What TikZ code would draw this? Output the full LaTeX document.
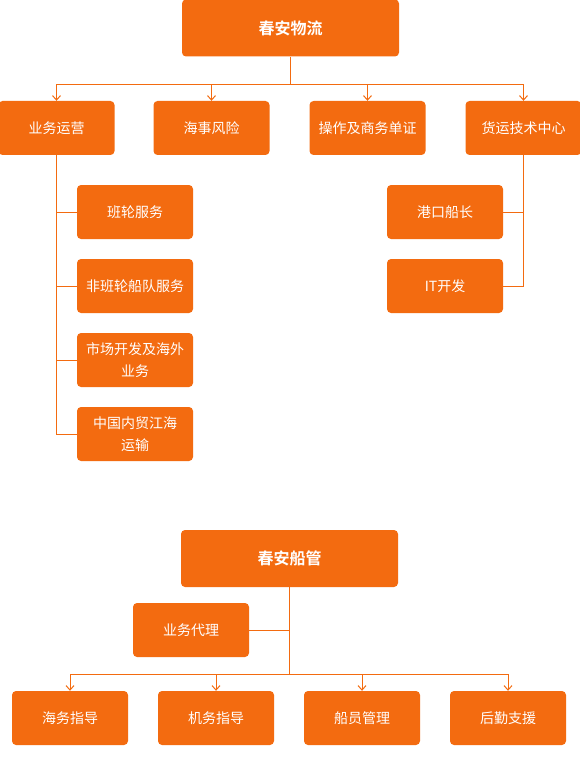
\documentclass[tikz,border=0pt]{standalone}
\usepackage{fontspec}
\usetikzlibrary{arrows.meta}
\newfontfamily\cjk{Noto Sans CJK SC}[BoldFont={Noto Sans CJK SC Bold}]
\definecolor{org}{HTML}{F36B10}
\begin{document}
\begin{tikzpicture}[x=1pt,y=-1pt,
  box/.style={rectangle,fill=org,rounded corners=4pt,minimum width=116pt,minimum height=54pt,inner sep=0pt,text=white,font=\cjk\fontsize{14pt}{22pt}\selectfont,align=center},
  topbox/.style={box,minimum width=217pt,minimum height=57pt,font=\cjk\bfseries\fontsize{16pt}{20pt}\selectfont},
  ln/.style={draw=org,line width=1pt},
  arr/.style={ln,-{Straight Barb[length=4.5pt,width=8pt]}}]
\useasboundingbox (0,0) rectangle (580,770);
% top tree
\node[topbox] (t1) at (290.5,28) {春安物流};
\node[box] (a) at (56.5,128) {业务运营};
\node[box] (b) at (211.5,128) {海事风险};
\node[box] (c) at (367.5,128) {操作及商务单证};
\node[box] (d) at (523.5,128) {货运技术中心};
\coordinate (bus1) at (290.5,84.5);
\draw[ln] (t1.south) -- (bus1);
\draw[arr] (bus1) -| (a.north);
\draw[arr] (bus1) -| (b.north);
\draw[arr] (bus1) -| (c.north);
\draw[arr] (bus1) -| (d.north);
\node[box] (l1) at (135,212) {班轮服务};
\node[box] (l2) at (135,286) {非班轮船队服务};
\node[box] (l3) at (135,360) {市场开发及海外\\业务};
\node[box] (l4) at (135,434) {中国内贸江海\\运输};
\draw[ln] (a.south) |- (l1.west);
\draw[ln] (a.south) |- (l2.west);
\draw[ln] (a.south) |- (l3.west);
\draw[ln] (a.south) |- (l4.west);
\node[box] (r1) at (445,212) {港口船长};
\node[box] (r2) at (445,286) {IT开发};
\draw[ln] (d.south) |- (r1.east);
\draw[ln] (d.south) |- (r2.east);
% bottom tree
\node[topbox] (t2) at (289.5,558.5) {春安船管};
\node[box] (y) at (191,630) {业务代理};
\coordinate (bus2) at (289.5,674.5);
\draw[ln] (t2.south) -- (bus2);
\draw[ln] (y.east) -- (t2.south |- y.east);
\node[box] (e1) at (70,718) {海务指导};
\node[box] (e2) at (216,718) {机务指导};
\node[box] (e3) at (362,718) {船员管理};
\node[box] (e4) at (508,718) {后勤支援};
\draw[arr] (bus2) -| (e1.north);
\draw[arr] (bus2) -| (e2.north);
\draw[arr] (bus2) -| (e3.north);
\draw[arr] (bus2) -| (e4.north);
\end{tikzpicture}
\end{document}
